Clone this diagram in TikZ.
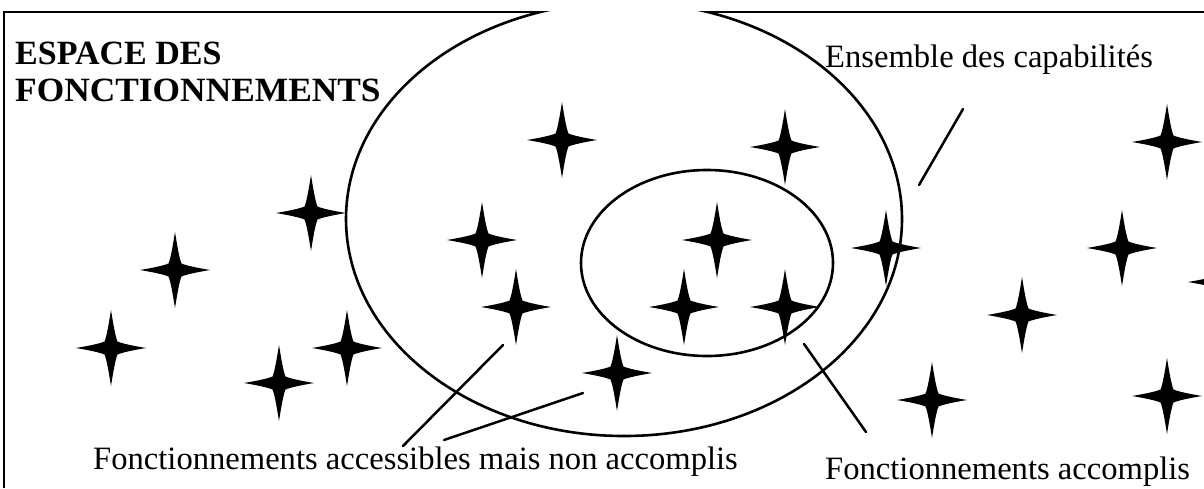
\documentclass[tikz,border=0pt]{standalone}
\usepackage{fontspec}
\setmainfont{Liberation Serif}
\tikzset{
  star4/.pic={\fill[black] (0,-38) .. controls (2.2,-24) and (4.5,-11) .. (6.5,-6.5)
     .. controls (11,-4.5) and (22,-2.2) .. (35,0)
     .. controls (22,2.2) and (11,4.5) .. (6.5,6.5)
     .. controls (4.5,11) and (2.2,24) .. (0,38)
     .. controls (-2.2,24) and (-4.5,11) .. (-6.5,6.5)
     .. controls (-11,4.5) and (-22,2.2) .. (-35,0)
     .. controls (-22,-2.2) and (-11,-4.5) .. (-6.5,-6.5)
     .. controls (-4.5,-11) and (-2.2,-24) .. cycle;},
  frameline/.style={line width=1.3pt},
  ell/.style={line width=2.6pt, fill=white},
  leader/.style={line width=2.5pt, line cap=round},
  lbl/.style={inner sep=0pt, anchor=base west, font=\fontsize{32.6}{36}\selectfont},
  ttl/.style={inner sep=0pt, anchor=base west, font=\fontsize{34}{38}\selectfont\bfseries}
}
\begin{document}
\begin{tikzpicture}[x=1pt,y=-1pt]
\useasboundingbox (0,0) rectangle (1204,488);
\fill[white] (0,0) rectangle (1204,488);
\begin{scope}
\clip (0,0) rectangle (1204,488);
% frame
\draw[frameline] (4,488) -- (4,12) -- (1210,12);
\begin{scope}
\clip (0,11.3) rectangle (1204,488);
\draw[ell] (624,219) ellipse [x radius=278pt, y radius=217pt];
\draw[ell] (707,263) ellipse [x radius=126pt, y radius=93pt];
\end{scope}
% stars
\pic (s1) at (562,140) {star4};
\pic (s2) at (785,147) {star4};
\pic (s3) at (1167,142) {star4};
\pic (s4) at (311,213) {star4};
\pic (s5) at (482,240) {star4};
\pic (s6) at (717,240) {star4};
\pic (s7) at (886,248) {star4};
\pic (s8) at (1122,248) {star4};
\pic (s9) at (175,270) {star4};
\pic (s10) at (516,307) {star4};
\pic (s11) at (684,307) {star4};
\pic (s12) at (785,307) {star4};
\pic (s13) at (1022,315) {star4};
\pic (s14) at (111,348) {star4};
\pic (s15) at (347,348) {star4};
\pic (s16) at (279,383) {star4};
\pic (s17) at (617,373) {star4};
\pic (s18) at (932,400) {star4};
\pic (s19) at (1167,396) {star4};
\pic (s20) at (1223,282) {star4};
% leader line ends
\coordinate (a1) at (503,345); \coordinate (a2) at (403,446);
\coordinate (b1) at (583,393); \coordinate (b2) at (444,440);
\coordinate (c1) at (804,344); \coordinate (c2) at (866,432);
\coordinate (d1) at (963,109); \coordinate (d2) at (919,185);
\draw[leader] (a1) -- (a2);
\draw[leader] (b1) -- (b2);
\draw[leader] (c1) -- (c2);
\draw[leader] (d1) -- (d2);
% texts
\node[ttl] (t1) at (15,64) {ESPACE DES};
\node[ttl] (t2) at (15,101) {\scalebox{1.04}[1]{FONCTIONNEMENTS}};
\node[lbl] (cap) at (825,67) {Ensemble des capabilités};
\node[lbl] (acc) at (93,469) {Fonctionnements accessibles mais non accomplis};
\node[lbl] (acp) at (825,479) {Fonctionnements accomplis};
\end{scope}
\end{tikzpicture}
\end{document}
